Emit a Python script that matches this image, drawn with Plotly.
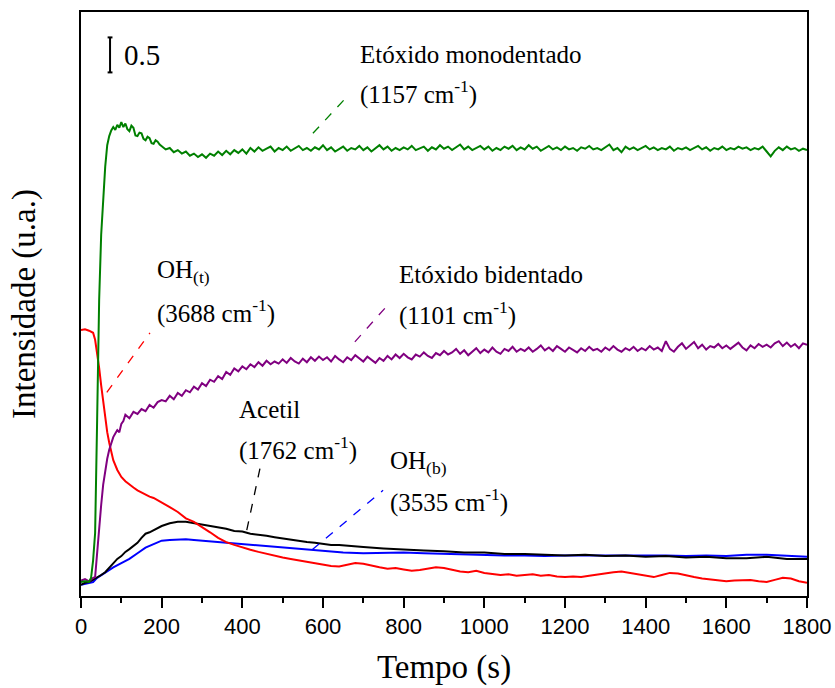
import plotly.graph_objects as go

# ---- data (intensity in arbitrary units, time in s) ----
green_t = [0, 10, 20, 25, 30, 35, 40, 45, 50, 55, 60, 65, 70, 75, 80, 85, 90, 95,
           100, 105, 110, 115, 120, 125, 130, 135, 140, 145, 150, 155, 160, 165,
           170, 175, 180, 185, 190, 195] + list(range(200, 1801, 10))
green_v = [0.00, 0.01, 0.00, 0.06, 0.31, 0.70, 2.31, 4.03, 4.96, 5.53, 5.93, 6.24,
           6.37, 6.45, 6.50, 6.46, 6.53, 6.49, 6.57, 6.50, 6.55, 6.47, 6.44, 6.52,
           6.49, 6.38, 6.37, 6.42, 6.41, 6.33, 6.31, 6.36, 6.34, 6.27, 6.26, 6.31,
           6.29, 6.25,
           6.23, 6.18, 6.20, 6.14, 6.17, 6.12, 6.15, 6.09, 6.12, 6.07,
           6.11, 6.06, 6.12, 6.09, 6.15, 6.10, 6.16, 6.11, 6.17, 6.13,
           6.18, 6.12, 6.20, 6.15, 6.21, 6.16, 6.19, 6.22, 6.15, 6.20,
           6.17, 6.22, 6.16, 6.19, 6.23, 6.17, 6.20, 6.16, 6.21, 6.18,
           6.24, 6.17, 6.21, 6.15, 6.19, 6.22, 6.16, 6.20, 6.18, 6.23,
           6.17, 6.21, 6.15, 6.19, 6.24, 6.18, 6.22, 6.16, 6.20, 6.17,
           6.21, 6.18, 6.23, 6.17, 6.19, 6.22, 6.16, 6.21, 6.18, 6.24,
           6.19, 6.22, 6.17, 6.21, 6.25, 6.18, 6.22, 6.17, 6.20, 6.23,
           6.18, 6.22, 6.16, 6.20, 6.17, 6.22, 6.19, 6.23, 6.17, 6.21,
           6.18, 6.24, 6.19, 6.22, 6.16, 6.20, 6.23, 6.18, 6.21, 6.17,
           6.22, 6.18, 6.20, 6.16, 6.21, 6.19, 6.23, 6.18, 6.20, 6.17,
           6.21, 6.25, 6.17, 6.20, 6.14, 6.22, 6.18, 6.21, 6.17, 6.20,
           6.23, 6.18, 6.21, 6.17, 6.20, 6.18, 6.22, 6.16, 6.20, 6.18,
           6.21, 6.17, 6.20, 6.23, 6.18, 6.21, 6.16, 6.20, 6.18, 6.22,
           6.17, 6.20, 6.18, 6.22, 6.19, 6.21, 6.17, 6.20, 6.18, 6.22,
           6.15, 6.08, 6.16, 6.21, 6.17, 6.22, 6.18, 6.20, 6.16, 6.19,
           6.17]

purple_t = [0, 10, 20, 30, 35, 40, 45, 50, 55, 60, 65, 70, 75, 80, 85, 90, 95, 100,
            105, 110] + list(range(120, 1801, 10))
purple_v = [0.02, 0.04, 0.01, 0.06, 0.07, 0.46, 0.81, 1.10, 1.39, 1.60, 1.76, 1.89,
            1.98, 2.07, 2.12, 2.17, 2.14, 2.26, 2.30, 2.39,
            2.34, 2.43, 2.40, 2.47, 2.44, 2.53, 2.49, 2.57, 2.60,
            2.58, 2.66, 2.61, 2.70, 2.66, 2.74, 2.71, 2.79, 2.75,
            2.84, 2.80, 2.89, 2.86, 2.94, 2.90, 3.00, 2.96, 3.05, 3.01,
            3.08, 3.04, 3.11, 3.07, 3.14, 3.09, 3.16, 3.11, 3.15, 3.12,
            3.18, 3.13, 3.20, 3.15, 3.12, 3.19, 3.14, 3.21, 3.16, 3.22,
            3.17, 3.21, 3.15, 3.23, 3.18, 3.14, 3.21, 3.17, 3.24, 3.19,
            3.15, 3.22, 3.17, 3.13, 3.20, 3.16, 3.23, 3.18, 3.25, 3.20,
            3.26, 3.21, 3.18, 3.25, 3.22, 3.28, 3.23, 3.20, 3.27, 3.24,
            3.30, 3.25, 3.28, 3.33, 3.26, 3.31, 3.24, 3.29, 3.34, 3.27,
            3.32, 3.28, 3.35, 3.29, 3.26, 3.33, 3.30, 3.36, 3.29, 3.33,
            3.30, 3.35, 3.29, 3.33, 3.38, 3.31, 3.35, 3.30, 3.37, 3.33,
            3.29, 3.35, 3.31, 3.28, 3.34, 3.30, 3.36, 3.31, 3.33, 3.29,
            3.35, 3.31, 3.37, 3.32, 3.29, 3.34, 3.31, 3.36, 3.30, 3.34,
            3.31, 3.37, 3.32, 3.35, 3.30, 3.44, 3.33, 3.29, 3.36, 3.41,
            3.33, 3.38, 3.43, 3.34, 3.39, 3.32, 3.37, 3.35, 3.40, 3.34,
            3.38, 3.33, 3.37, 3.42, 3.35, 3.31, 3.38, 3.34, 3.40, 3.36,
            3.39, 3.35, 3.41, 3.44, 3.37, 3.42, 3.36, 3.40, 3.34, 3.41,
            3.39]

red_t = [0, 10, 20, 30, 35, 40, 45, 50, 55, 60, 65, 70, 80, 90, 100, 110, 120, 130,
         140, 150, 160, 170, 180, 190] + list(range(200, 1801, 20))
red_v = [3.60, 3.61, 3.59, 3.56, 3.46, 3.29, 3.06, 2.81, 2.56, 2.34, 2.14, 1.99,
         1.74, 1.60, 1.50, 1.44, 1.39, 1.35, 1.31, 1.28, 1.24, 1.22, 1.20, 1.17,
         1.14, 1.07, 1.00, 0.91, 0.86, 0.79, 0.71, 0.63, 0.57, 0.53,
         0.49, 0.46, 0.43, 0.40, 0.37, 0.35, 0.33, 0.31, 0.29, 0.26,
         0.24, 0.23, 0.22, 0.25, 0.27, 0.26, 0.23, 0.21, 0.19, 0.20,
         0.18, 0.16, 0.17, 0.19, 0.21, 0.20, 0.17, 0.15, 0.14, 0.16,
         0.13, 0.12, 0.10, 0.11, 0.09, 0.10, 0.11, 0.09, 0.10, 0.08,
         0.07, 0.08, 0.07, 0.09, 0.11, 0.12, 0.14, 0.15, 0.13, 0.10,
         0.08, 0.07, 0.10, 0.13, 0.12, 0.09, 0.07, 0.05, 0.04, 0.03,
         0.01, 0.02, 0.03, 0.03, 0.01, 0.00, 0.03, 0.06, 0.05, 0.01,
         -0.01]

black_t = [0, 10, 20, 30, 40, 50, 60, 70, 80, 90, 100, 110, 120, 130, 140, 150, 160,
           170, 180, 190, 200, 220, 240, 260, 280, 300, 320, 340, 360, 380, 400, 420,
           440, 460, 480, 500, 520, 540, 560, 580, 600, 620, 640, 660, 680, 700,
           750, 800, 850, 900, 950, 1000, 1050, 1100, 1150, 1200, 1250, 1300, 1350,
           1400, 1450, 1500, 1550, 1600, 1650, 1700, 1750, 1800]
black_v = [-0.04, -0.01, 0.00, 0.03, 0.06, 0.10, 0.14, 0.20, 0.27, 0.33, 0.37, 0.43,
           0.47, 0.51, 0.56, 0.63, 0.69, 0.71, 0.74, 0.78, 0.80, 0.84, 0.86, 0.86,
           0.84, 0.83, 0.81, 0.79, 0.76, 0.73, 0.72, 0.69, 0.68, 0.66, 0.64, 0.62,
           0.60, 0.59, 0.57, 0.56, 0.54, 0.53, 0.53, 0.52, 0.50, 0.50, 0.48, 0.46,
           0.45, 0.44, 0.42, 0.42, 0.40, 0.40, 0.39, 0.38, 0.39, 0.37, 0.38, 0.36,
           0.37, 0.35, 0.36, 0.34, 0.34, 0.36, 0.33, 0.33]

blue_t = [0, 10, 20, 30, 40, 50, 60, 80, 100, 120, 140, 160, 180, 200, 220, 240, 260,
          280, 300, 340, 400, 450, 500, 550, 600, 650, 700, 750, 800, 850, 900, 950,
          1000, 1050, 1100, 1150, 1200, 1250, 1300, 1350, 1400, 1450, 1500, 1550,
          1600, 1650, 1700, 1750, 1800]
blue_v = [-0.04, -0.03, -0.01, 0.00, 0.06, 0.10, 0.14, 0.21, 0.27, 0.33, 0.41, 0.49,
          0.54, 0.59, 0.60, 0.61, 0.61, 0.60, 0.59, 0.57, 0.54, 0.51, 0.49, 0.46,
          0.44, 0.42, 0.41, 0.42, 0.42, 0.41, 0.40, 0.40, 0.39, 0.38, 0.38, 0.37,
          0.38, 0.38, 0.39, 0.39, 0.39, 0.38, 0.37, 0.38, 0.37, 0.39, 0.39, 0.38,
          0.36]

x_ticks = [0, 200, 400, 600, 800, 1000, 1200, 1400, 1600, 1800]
scale_value = 0.5

SERIF = "Times New Roman, Liberation Serif, DejaVu Serif, serif"
SANS = "Arial, Liberation Sans, sans-serif"

fig = go.Figure()
for t, v, c in [(blue_t, blue_v, "#0000ff"), (black_t, black_v, "#000000"),
                (red_t, red_v, "#ff0000"), (purple_t, purple_v, "#800080"),
                (green_t, green_v, "#008000")]:
    fig.add_trace(go.Scatter(x=t, y=v, mode="lines",
                             line=dict(color=c, width=2), showlegend=False))

# dashed leader lines from labels to curves
leaders = [
    ((575, 6.41), (659, 6.93), "#008000"),
    ((64, 2.71), (171, 3.56), "#ff0000"),
    ((679, 3.43), (761, 3.96), "#800080"),
    ((411, 0.74), (444, 1.63), "#000000"),
    ((573, 0.46), (749, 1.31), "#0000ff"),
]
for (x0, y0), (x1, y1), c in leaders:
    fig.add_shape(type="line", x0=x0, y0=y0, x1=x1, y1=y1, xref="x", yref="y",
                  line=dict(color=c, width=1.3, dash="dash"))

# scale bar
bx, btop = 72, 7.78
fig.add_shape(type="line", x0=bx, x1=bx, y0=btop - scale_value, y1=btop,
              line=dict(color="black", width=2))
for yy in (btop - scale_value, btop):
    fig.add_shape(type="line", x0=bx - 6, x1=bx + 6, y0=yy, y1=yy,
                  line=dict(color="black", width=2))

fig.add_annotation(x=101, y=7.53, text="0.5", showarrow=False, xanchor="left",
                   yanchor="middle", font=dict(family=SERIF, size=29, color="black"))

labels = [
    (687, 7.53, "Etóxido monodentado"),
    (687, 6.99, "(1157 cm<sup>-1</sup>)"),
    (183, 4.43, "OH<sub>(t)</sub>"),
    (183, 3.87, "(3688 cm<sup>-1</sup>)"),
    (783, 4.40, "Etóxido bidentado"),
    (783, 3.84, "(1101 cm<sup>-1</sup>)"),
    (387, 2.46, "Acetil"),
    (387, 1.91, "(1762 cm<sup>-1</sup>)"),
    (761, 1.71, "OH<sub>(b)</sub>"),
    (761, 1.17, "(3535 cm<sup>-1</sup>)"),
]
for x, y, s in labels:
    fig.add_annotation(x=x, y=y, text=s, showarrow=False, xanchor="left",
                       yanchor="middle", xref="x", yref="y",
                       font=dict(family=SERIF, size=25, color="black"))

fig.update_layout(
    width=835, height=688,
    margin=dict(l=81, r=28, t=12, b=92, autoexpand=False),
    paper_bgcolor="white", plot_bgcolor="white",
    xaxis=dict(range=[0, 1800], tickvals=x_ticks, ticks="outside", ticklen=10,
               tickwidth=2, tickcolor="black", showline=True, linewidth=2,
               linecolor="black", mirror=True, showgrid=False, zeroline=False,
               automargin=False,
               tickfont=dict(family=SANS, size=22, color="black"),
               minor=dict(dtick=100, ticks="outside", ticklen=5, tickwidth=2,
                          tickcolor="black", showgrid=False),
               title=dict(text="Tempo (s)", standoff=16,
                          font=dict(family=SERIF, size=33, color="black"))),
    yaxis=dict(range=[-0.2, 8.143], showticklabels=False, ticks="",
               showline=True, linewidth=2, linecolor="black", mirror=True,
               showgrid=False, zeroline=False, automargin=False,
               title=dict(text="Intensidade (u.a.)", standoff=33,
                          font=dict(family=SERIF, size=33, color="black"))),
)

fig.write_html("out.html")
